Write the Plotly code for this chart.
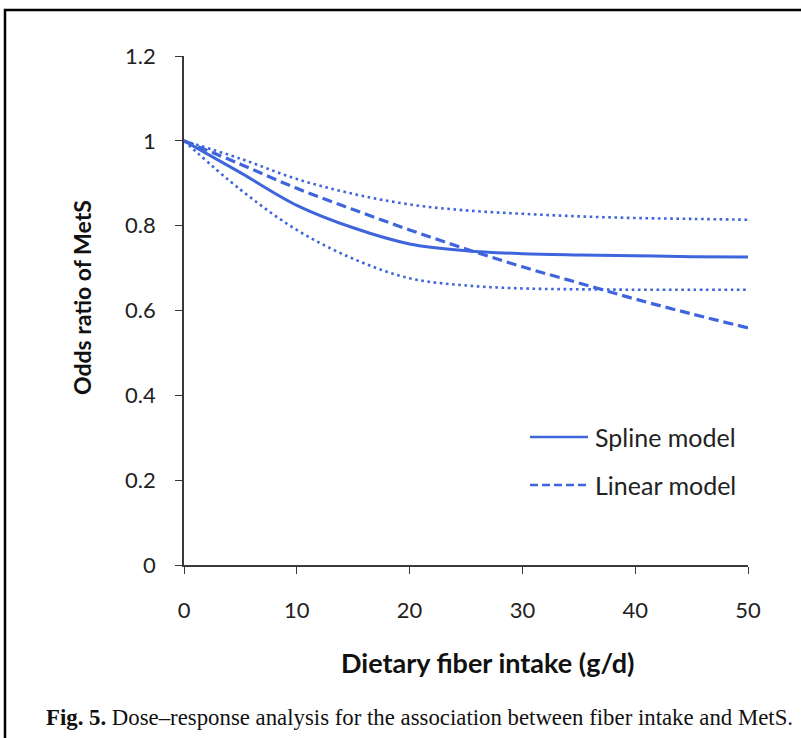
import plotly.graph_objects as go

# ---- data ----
fiber = [0, 5, 10, 15, 20, 25, 30, 35, 40, 45, 50]
spline_or = [1.0, 0.925, 0.848, 0.795, 0.757, 0.741, 0.734, 0.731, 0.729, 0.727, 0.726]
spline_upper = [1.0, 0.958, 0.91, 0.875, 0.85, 0.836, 0.828, 0.822, 0.818, 0.816, 0.814]
spline_lower = [1.0, 0.885, 0.79, 0.722, 0.676, 0.659, 0.652, 0.65, 0.649, 0.649, 0.649]
linear_or = [1.0, 0.945, 0.888, 0.838, 0.79, 0.745, 0.703, 0.665, 0.627, 0.592, 0.559]
x_ticks = [0, 10, 20, 30, 40, 50]
y_ticks = [0, 0.2, 0.4, 0.6, 0.8, 1.0, 1.2]
y_tick_labels = ["0", "0.2", "0.4", "0.6", "0.8", "1", "1.2"]

W, H = 801, 738
L, R, T, B = 184, 748, 56, 565  # plot area in pixels

def px(x):
    return (x - L) / (R - L)

def py(y):
    return (B - y) / (B - T)

BLUE = "#3F65DD"
FONT = "Lato"

fig = go.Figure()
fig.add_trace(go.Scatter(x=fiber, y=spline_upper, mode="lines", line=dict(color=BLUE, width=2.6, dash="2.6px,3.6px", shape="spline"), showlegend=False))
fig.add_trace(go.Scatter(x=fiber, y=spline_lower, mode="lines", line=dict(color=BLUE, width=2.6, dash="2.6px,3.6px", shape="spline"), showlegend=False))
fig.add_trace(go.Scatter(x=fiber, y=linear_or, mode="lines", line=dict(color=BLUE, width=3.2, dash="10px,5px", shape="spline"), name="Linear model", showlegend=False))
fig.add_trace(go.Scatter(x=fiber, y=spline_or, mode="lines", line=dict(color=BLUE, width=3, shape="spline"), name="Spline model", showlegend=False))

axis_common = dict(showline=True, linecolor="#3a3a3a", linewidth=1.6, ticks="outside", ticklen=7,
                   tickcolor="#3a3a3a", tickwidth=1.4, showgrid=False, zeroline=False,
                   tickfont=dict(family=FONT, size=22, color="#222222"))

fig.update_xaxes(range=[0, 50], tickvals=x_ticks, ticklabelstandoff=18, **axis_common)
fig.update_yaxes(range=[0, 1.2], tickvals=y_ticks, ticktext=y_tick_labels, ticklabelstandoff=15, **axis_common)

shapes = [
    # outer frame
    dict(type="rect", xref="paper", yref="paper", x0=px(5), x1=px(820), y0=py(10), y1=py(760),
         line=dict(color="black", width=2.5), fillcolor="rgba(0,0,0,0)", layer="below"),
    # legend samples
    dict(type="line", xref="paper", yref="paper", x0=px(530), x1=px(588), y0=py(437), y1=py(437),
         line=dict(color=BLUE, width=2.6)),
    dict(type="line", xref="paper", yref="paper", x0=px(530), x1=px(588), y0=py(485), y1=py(485),
         line=dict(color=BLUE, width=2.6, dash="8px,4px")),
]

annotations = [
    dict(text="Spline model", xref="paper", yref="paper", x=px(593), y=py(437), xanchor="left", yanchor="middle",
         showarrow=False, font=dict(family=FONT, size=25, color="#222222")),
    dict(text="Linear model", xref="paper", yref="paper", x=px(593), y=py(485), xanchor="left", yanchor="middle",
         showarrow=False, font=dict(family=FONT, size=25, color="#222222")),
    dict(text="<b>Odds ratio of MetS</b>", xref="paper", yref="paper", x=px(82), y=py(298), xanchor="center",
         yanchor="middle", textangle=-90, showarrow=False, font=dict(family=FONT, size=23, color="#111111")),
    dict(text="<b>Dietary fiber intake (g/d)</b>", xref="paper", yref="paper", x=px(487), y=py(662),
         xanchor="center", yanchor="middle", showarrow=False, font=dict(family=FONT, size=27, color="#111111")),
    dict(text="<b>Fig. 5.</b> Dose\u2013response analysis for the association between fiber intake and MetS.",
         xref="paper", yref="paper", x=px(44), y=py(717), xanchor="left", yanchor="middle", showarrow=False,
         font=dict(family="Liberation Serif", size=22.8, color="#111111")),
]

fig.update_layout(
    width=W, height=H,
    margin=dict(l=L, r=W - R, t=T, b=H - B, pad=0),
    paper_bgcolor="white", plot_bgcolor="white",
    shapes=shapes, annotations=annotations,
    showlegend=False,
)

fig.write_html("out.html")
